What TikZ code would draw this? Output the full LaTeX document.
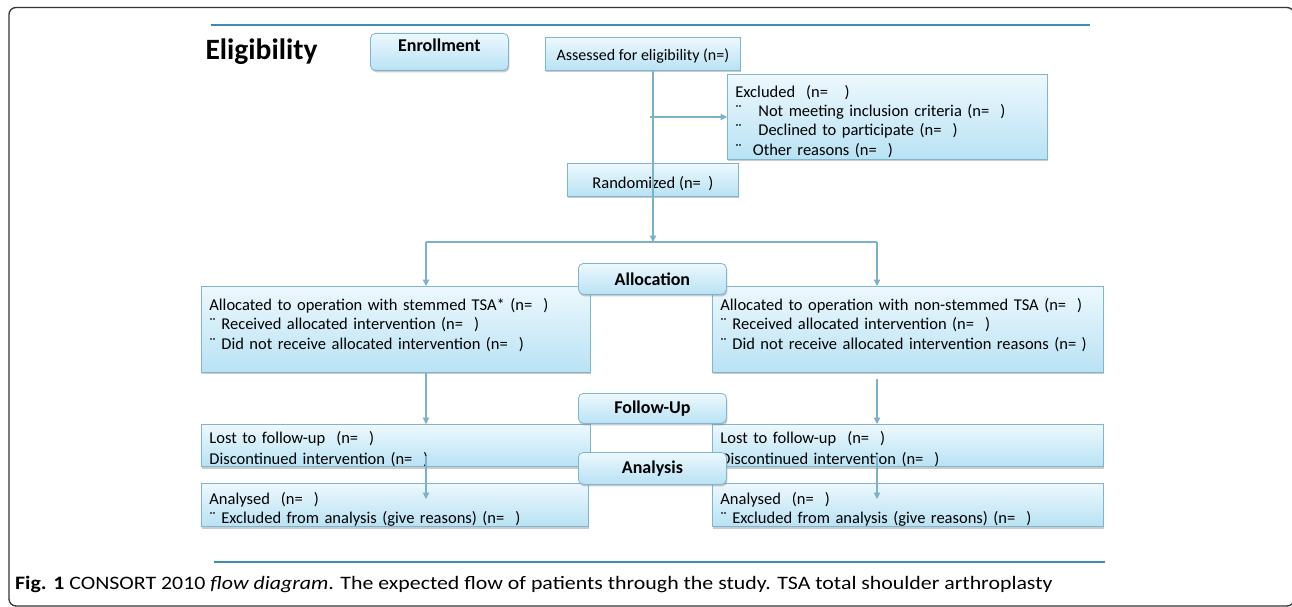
\documentclass[tikz,border=0pt]{standalone}
\usepackage{fontspec}
\setmainfont{Carlito}
\usetikzlibrary{shadows,arrows.meta}
\definecolor{boxline}{HTML}{80B5D0}
\definecolor{boxtop}{HTML}{EDF8FD}
\definecolor{boxbot}{HTML}{B8E2F4}
\definecolor{arrcol}{HTML}{7DB0C9}
\definecolor{rulecol}{HTML}{3E8DB2}
\newcommand{\bodyfont}{\fontsize{16.5}{19.3}\selectfont}
\newcommand{\headfont}{\fontsize{18}{20}\selectfont\bfseries}
\newcommand{\topstrut}[1]{\rule{0pt}{#1}}
\newcommand{\botstrut}[1]{\rule[-#1]{0pt}{#1}}
\tikzset{
  box/.style={draw=boxline, line width=0.8pt, top color=boxtop, bottom color=boxbot,
    drop shadow={shadow xshift=1pt, shadow yshift=-2pt, fill=black!45, opacity=0.45},
    font=\bodyfont, inner xsep=8pt, inner ysep=0pt, anchor=north west},
  lbox/.style={box, align=left},
  cbox/.style={box, align=center},
  rbox/.style={box, rounded corners=5pt, font=\headfont, align=center},
  conn/.style={draw=arrcol, line width=1.1pt},
  arr/.style={conn, -{Triangle[length=6.5pt,width=6.5pt]}},
}
\begin{document}
\begin{tikzpicture}[x=1pt,y=-1pt]
\useasboundingbox (0,0) rectangle (1292,607);
\fill[white] (0,0) rectangle (1292,607);
\draw[line width=1.3pt, black!80, rounded corners=7pt] (9,7.5) rectangle (1294,606);
\draw[rulecol, line width=1.2pt] (211,25) -- (1090,25);
\draw[rulecol, line width=1.2pt] (214,562) -- (1105,562);

\node[font=\fontsize{29.5}{31}\selectfont\bfseries, anchor=west] (elig) at (202,52) {Eligibility};

% boxes
\node[cbox, font=\fontsize{16}{19}\selectfont, minimum width=195pt, minimum height=33pt] (assessed) at (545,37) {\topstrut{15pt}Assessed for eligibility (n=)};
\node[lbox, text width=304pt, minimum height=85pt] (excluded) at (727,74)
  {\topstrut{21pt}Excluded~ (n=~~~)\\
   ¨~~~Not meeting inclusion criteria (n=~~)\\
   ¨~~~Declined to participate (n=~~)\\
   ¨~~Other reasons (n=~~)};
\node[cbox, minimum width=171pt, minimum height=33pt] (random) at (567,163) {\topstrut{19pt}Randomized (n=~~)};

\node[lbox, text width=373pt, minimum height=86pt] (allocL) at (201,286)
  {Allocated to operation with stemmed TSA* (n=~~)\\
   ¨ Received allocated intervention (n=~~)\\
   ¨ Did not receive allocated intervention (n=~~)\botstrut{11pt}};
\node[lbox, text width=375pt, minimum height=86pt] (allocR) at (712,286)
  {Allocated to operation with non-stemmed TSA (n=~~)\\
   ¨ Received allocated intervention (n=~~)\\
   ¨ Did not receive allocated intervention reasons (n=~)\botstrut{11pt}};

\node[lbox, text width=373pt, minimum height=42pt, font=\fontsize{16.5}{21}\selectfont] (fuL) at (201,424)
  {\topstrut{19pt}Lost to follow-up~ (n=~~)\\ Discontinued intervention (n=~~)};
\node[lbox, text width=375pt, minimum height=42pt, font=\fontsize{16.5}{21}\selectfont] (fuR) at (712,424)
  {\topstrut{19pt}Lost to follow-up~ (n=~~)\\ Discontinued intervention (n=~~)};

\node[lbox, text width=371pt, minimum height=42pt] (anL) at (201,483)
  {\topstrut{21pt}Analysed~ (n=~~)\\ ¨ Excluded from analysis (give reasons) (n=~~)};
\node[lbox, text width=375pt, minimum height=42pt] (anR) at (712,483)
  {\topstrut{21pt}Analysed~ (n=~~)\\ ¨ Excluded from analysis (give reasons) (n=~~)};

% connectors
\coordinate (split) at (653,242);
\coordinate (hl) at (426,242);
\coordinate (hr) at (877,242);
\coordinate (exS) at (650,117);
\draw[arr] (assessed.south -| split) -- (split);
\draw[arr] (exS) -- (excluded.west |- exS);
\draw[conn] (hl) -- (hr);
\draw[arr] (hl) -- (allocL.north -| hl);
\draw[arr] (hr) -- (allocR.north -| hr);
\draw[arr] (allocL.south -| hl) -- (fuL.north -| hl);
\draw[arr] ([yshift=-6pt]allocR.south -| hr) -- (fuR.north -| hr);
\coordinate (fuLs) at (426,456);
\coordinate (fuRs) at (877,456);
\coordinate (anLe) at (426,499);
\coordinate (anRe) at (877,499);
\draw[arr] (fuLs) -- (anLe);
\draw[arr] (fuRs) -- (anRe);

% stage boxes
\node[rbox, minimum width=138pt, minimum height=37pt] (enroll) at (370,33) {};
\node[font=\headfont, anchor=north, inner sep=0pt] (enrolltxt) at ([yshift=-6pt]enroll.north) {Enrollment};
\node[rbox, minimum width=148pt, minimum height=31pt] (alloc) at (578,263) {Allocation};
\node[rbox, minimum width=148pt, minimum height=30pt] (follow) at (578,393) {Follow-Up};
\node[rbox, minimum width=148pt, minimum height=32pt] (analysis) at (578,452) {Analysis};

% caption
\node[anchor=west, font=\fontsize{19}{21}\selectfont, inner sep=0pt] (cap) at (15,584)
  {\scalebox{1.15}[1]{\textbf{Fig. 1} CONSORT 2010 \textit{flow diagram}. The expected flow of patients through the study. TSA total shoulder arthroplasty}};
\end{tikzpicture}
\end{document}
